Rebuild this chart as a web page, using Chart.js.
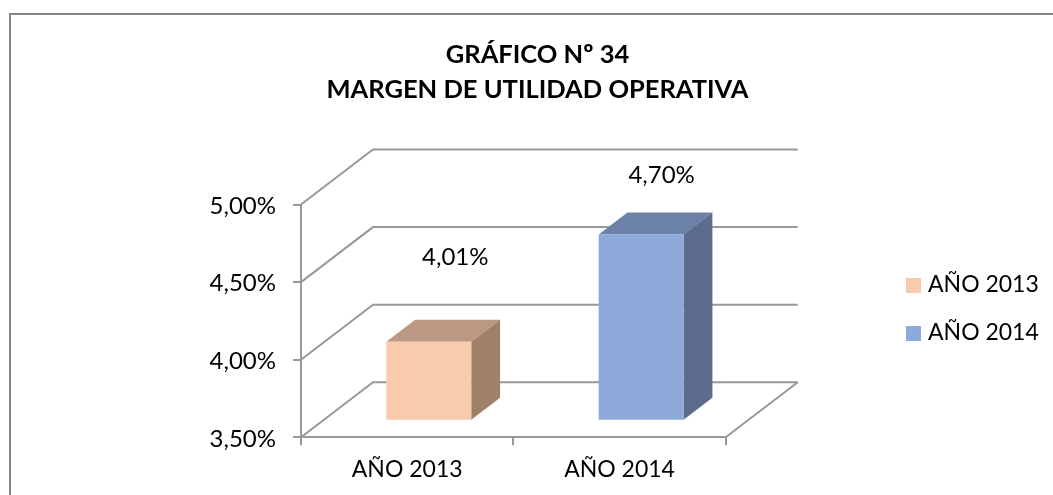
<!DOCTYPE html>
<html>
<head>
    <meta charset="UTF-8" />
    <title>Margen de utilidad operativa</title>
    <script src="https://cdn.jsdelivr.net/npm/chart.js"></script>
    <style>
        html, body { margin: 0; background: #ffffff; }
        #chart { display: block; }
    </style>
</head>
<body>
    <canvas id="chart" width="1053" height="495"></canvas>
    <script type="text/javascript">
        const categories = ['AÑO 2013', 'AÑO 2014'];
        const values = [4.01, 4.70];
        const valueLabels = ['4,01%', '4,70%'];
        const titleLines = ['GRÁFICO Nº 34', 'MARGEN DE UTILIDAD OPERATIVA'];

        const frontColors = ['#F7CBAC', '#8EAADB'];
        const topColors = ['#BA9881', '#6C81A8'];
        const sideColors = ['#A08068', '#5B6C8C'];

        const lineColor = '#989898';
        const fontName = 'Lato, "Open Sans", sans-serif';
        const textSize = 23;
        const percentSize = 24;

        // depth of the floor, in pixels
        const depthX = 72;
        const depthY = 55;
        // the bars stand between 30% and 70% of that depth
        const barNear = 0.3;
        const barFar = 0.7;
        // where the value labels sit, measured from the top middle of the front face
        const labelShiftX = [26.5, 20.5];
        const labelShiftY = [-84, -59];

        function poly(ctx, points, color) {
            ctx.beginPath();
            ctx.moveTo(points[0][0], points[0][1]);
            for (let i = 1; i < points.length; i++) {
                ctx.lineTo(points[i][0], points[i][1]);
            }
            ctx.closePath();
            ctx.fillStyle = color;
            ctx.fill();
        }

        // legend swatch as an image, so the text can sit closer than the default gap
        function swatch(color) {
            const c = document.createElement('canvas');
            c.width = 15;
            c.height = 15;
            const g = c.getContext('2d');
            g.fillStyle = color;
            g.fillRect(0, 0, 15, 15);
            return c;
        }

        const box3d = {
            id: 'box3d',
            // pull legend and title off the plot, the plot keeps its own width
            afterLayout(chart) {
                const legend = chart.legend;
                legend.left = 885.5;
                legend.right = 1053;
                legend.top = 123;
                legend.bottom = 495;
                chart.titleBlock.left = 22;
                chart.titleBlock.right = 1053;
            },
            beforeDatasetsDraw(chart) {
                const ctx = chart.ctx;
                const area = chart.chartArea;
                const yScale = chart.scales.y;
                ctx.save();
                ctx.strokeStyle = lineColor;
                ctx.lineWidth = 2;
                yScale.ticks.forEach(function (tick) {
                    const y = yScale.getPixelForValue(tick.value);
                    ctx.beginPath();
                    ctx.moveTo(area.left, y);
                    ctx.lineTo(area.left + depthX, y - depthY);
                    ctx.lineTo(area.right + depthX, y - depthY);
                    ctx.stroke();
                });
                ctx.beginPath();
                ctx.moveTo(area.right, area.bottom);
                ctx.lineTo(area.right + depthX, area.bottom - depthY);
                ctx.stroke();
                ctx.restore();
            },
            beforeDatasetDraw(chart, args) {
                const ctx = chart.ctx;
                const bars = args.meta.data;
                const nearX = depthX * barNear, nearY = depthY * barNear;
                const backX = depthX * (barFar - barNear), backY = depthY * (barFar - barNear);
                ctx.save();
                bars.forEach(function (bar, i) {
                    const l = bar.x - bar.width / 2 + nearX;
                    const r = bar.x + bar.width / 2 + nearX;
                    const t = bar.y - nearY;
                    const b = bar.base - nearY;
                    poly(ctx, [[l, t], [r, t], [r + backX, t - backY], [l + backX, t - backY]], topColors[i]);
                    poly(ctx, [[r, t], [r + backX, t - backY], [r + backX, b - backY], [r, b]], sideColors[i]);
                });
                // front faces are the real bars, moved back onto the floor
                ctx.translate(nearX, -nearY);
            },
            afterDatasetDraw(chart, args) {
                const ctx = chart.ctx;
                ctx.restore();
                ctx.save();
                ctx.fillStyle = '#000000';
                ctx.font = percentSize + 'px ' + fontName;
                ctx.textAlign = 'center';
                ctx.textBaseline = 'middle';
                args.meta.data.forEach(function (bar, i) {
                    const x = bar.x + depthX * barNear + labelShiftX[i];
                    const y = bar.y - depthY * barNear + labelShiftY[i];
                    ctx.fillText(valueLabels[i], x, y);
                });
                ctx.restore();
            },
            afterDraw(chart) {
                const ctx = chart.ctx;
                ctx.save();
                ctx.strokeStyle = '#868686';
                ctx.lineWidth = 2;
                ctx.beginPath();
                ctx.moveTo(10, 495);
                ctx.lineTo(10, 14);
                ctx.lineTo(1053, 14);
                ctx.stroke();
                ctx.restore();
            }
        };

        new Chart(document.getElementById('chart'), {
            type: 'bar',
            plugins: [box3d],
            data: {
                labels: categories,
                datasets: [{
                    data: values,
                    base: 3.5,
                    backgroundColor: frontColors,
                    borderWidth: 0,
                    barPercentage: 0.4,
                    categoryPercentage: 1,
                    clip: false
                }]
            },
            options: {
                responsive: false,
                animation: false,
                layout: { padding: { left: 14, right: 164, top: 0, bottom: 0 } },
                scales: {
                    x: {
                        afterFit(scale) { scale.height = 57.7; },
                        grid: { drawOnChartArea: false, color: lineColor, lineWidth: 2, tickLength: 8 },
                        border: { color: lineColor, width: 2 },
                        ticks: { color: '#000000', font: { family: fontName, size: textSize }, padding: 10, maxRotation: 0 }
                    },
                    y: {
                        min: 3.5,
                        max: 5,
                        afterFit(scale) { scale.width = 287; },
                        grid: { drawOnChartArea: false, color: lineColor, lineWidth: 2, tickLength: 8 },
                        border: { color: lineColor, width: 2 },
                        ticks: {
                            stepSize: 0.5,
                            color: '#000000',
                            padding: 17,
                            labelOffset: 1.5,
                            font: { family: fontName, size: percentSize },
                            callback(value) { return value.toFixed(2).replace('.', ',') + '%'; }
                        }
                    }
                },
                plugins: {
                    tooltip: { enabled: false },
                    title: {
                        display: true,
                        text: titleLines,
                        color: '#000000',
                        font: { family: fontName, size: 25.5, weight: 'bold', lineHeight: 1.4 },
                        padding: { top: 36.5, bottom: 96.6 }
                    },
                    legend: {
                        position: 'right',
                        labels: {
                            boxWidth: 15,
                            boxHeight: 15,
                            padding: 25,
                            usePointStyle: true,
                            pointStyleWidth: 6,
                            color: '#000000',
                            font: { family: fontName, size: textSize },
                            generateLabels() {
                                return categories.map(function (name, i) {
                                    return { text: name, fillStyle: frontColors[i], strokeStyle: frontColors[i], lineWidth: 0, pointStyle: swatch(frontColors[i]), index: i };
                                });
                            }
                        }
                    }
                }
            }
        });
    </script>
</body>
</html>
